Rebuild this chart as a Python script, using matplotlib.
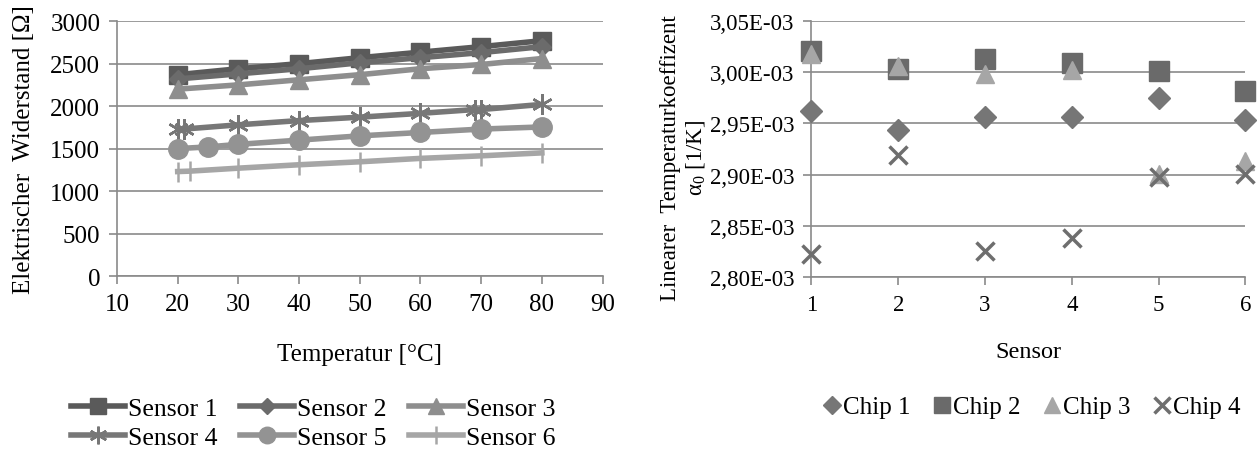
import matplotlib.pyplot as plt
from matplotlib.lines import Line2D
from matplotlib.ticker import FuncFormatter, MultipleLocator

plt.rcParams['font.family'] = ['Liberation Serif', 'DejaVu Serif']
plt.rcParams['mathtext.fontset'] = 'custom'
plt.rcParams['mathtext.rm'] = 'Liberation Serif'
plt.rcParams['mathtext.it'] = 'Liberation Serif'

# left chart: resistance vs temperature
sensor_names = ['Sensor 1', 'Sensor 2', 'Sensor 3', 'Sensor 4', 'Sensor 5', 'Sensor 6']
s1_x = [20, 30, 40, 50, 60, 70, 80]
s1_y = [2370, 2440, 2500, 2570, 2635, 2700, 2770]
s2_x = [20, 30, 40, 50, 60, 70, 80]
s2_y = [2320, 2380, 2440, 2510, 2570, 2630, 2700]
s3_x = [20, 30, 40, 50, 60, 70, 80]
s3_y = [2200, 2250, 2310, 2370, 2440, 2490, 2560]
s4_x = [20, 21, 30, 40, 50, 60, 69, 70, 80]
s4_y = [1730, 1730, 1780, 1830, 1870, 1915, 1960, 1960, 2020]
s5_x = [20, 25, 30, 40, 50, 60, 70, 80]
s5_y = [1500, 1520, 1550, 1600, 1650, 1690, 1730, 1755]
s6_x = [20, 22, 30, 40, 50, 60, 70, 80]
s6_y = [1230, 1235, 1270, 1310, 1345, 1385, 1415, 1450]

# right chart: temperature coefficient per sensor
sensors = [1, 2, 3, 4, 5, 6]
chip_names = ['Chip 1', 'Chip 2', 'Chip 3', 'Chip 4']
chip1 = [2.962e-3, 2.944e-3, 2.956e-3, 2.956e-3, 2.975e-3, 2.953e-3]
chip2 = [3.021e-3, 3.003e-3, 3.013e-3, 3.009e-3, 3.001e-3, 2.982e-3]
chip3 = [3.018e-3, 3.006e-3, 2.998e-3, 3.002e-3, 2.901e-3, 2.913e-3]
chip4 = [2.822e-3, 2.919e-3, 2.825e-3, 2.838e-3, 2.898e-3, 2.901e-3]

grid_c = '#8a8a8a'
fs_left = 18      # left chart was pasted a bit larger
fs_right = 16.5
fs_leg_left = 18.5
fs_leg_right = 18

fig = plt.figure(figsize=(12.58, 4.52), dpi=100)
ax1 = fig.add_axes([0.093, 0.387, 0.386, 0.564])
ax2 = fig.add_axes([0.645, 0.385, 0.345, 0.566])

sensor_series = [
    (s1_x, s1_y, 's', '#5a5a5a', 13),
    (s2_x, s2_y, 'D', '#6b6b6b', 9),
    (s3_x, s3_y, '^', '#8e8e8e', 13),
    (s4_x, s4_y, (6, 2, 0), '#777777', 15),
    (s5_x, s5_y, 'o', '#939393', 14),
    (s6_x, s6_y, '|', '#a6a6a6', 15),
]
handles = []
for (x, y, m, c, ms), name in zip(sensor_series, sensor_names):
    mew = 1.8 if m in ('|', (6, 2, 0)) else 1
    ax1.plot(x, y, color=c, lw=4, marker=m, ms=ms, mec=c, mfc=c, mew=mew,
             zorder=3)
    handles.append(Line2D([], [], color=c, lw=4, marker=m, ms=ms * 0.85,
                          mec=c, mfc=c, mew=mew, label=name))
# legend is filled row by row in the reference
order = [0, 3, 1, 4, 2, 5]
handles = [handles[i] for i in order]

ax1.set_xlim(10, 90)
ax1.set_ylim(0, 3000)
ax1.xaxis.set_major_locator(MultipleLocator(10))
ax1.yaxis.set_major_locator(MultipleLocator(500))
ax1.set_xlabel('Temperatur [°C]', fontsize=fs_left, labelpad=20)
ax1.set_ylabel('Elektrischer  Widerstand [Ω]', fontsize=fs_left)
ax1.yaxis.set_label_coords(-0.168, 0.5)

chip_series = [
    (chip1, 'D', '#767676', 11, 1),
    (chip2, 's', '#6a6a6a', 14, 1),
    (chip3, '^', '#a6a6a6', 13, 1),
    (chip4, 'x', '#6e6e6e', 13, 2.5),
]
chip_handles = []
for (vals, m, c, ms, mew), name in zip(chip_series, chip_names):
    ax2.plot(sensors, vals, ls='none', marker=m, ms=ms, color=c, mew=mew,
             clip_on=False, zorder=3)
    chip_handles.append(Line2D([], [], ls='none', marker=m, ms=ms * 0.85,
                               color=c, mew=mew, label=name))

ax2.set_xlim(1, 6)
ax2.set_ylim(2.80e-3, 3.05e-3)
ax2.xaxis.set_major_locator(MultipleLocator(1))
ax2.yaxis.set_major_locator(MultipleLocator(0.05e-3))
ax2.yaxis.set_major_formatter(FuncFormatter(
    lambda v, p: ('%.2E' % v).replace('.', ',')))
ax2.set_xlabel('Sensor', fontsize=17.5, labelpad=19)
ax2.set_ylabel('Linearer  Temperaturkoeffizent\n$\\mathrm{\\alpha_0}$ [1/K]',
               fontsize=16.5, linespacing=1.2)
ax2.yaxis.set_label_coords(-0.24, 0.47)

for ax, fs in ((ax1, fs_left), (ax2, fs_right)):
    ax.grid(axis='y', color=grid_c, lw=1.2)
    ax.set_axisbelow(True)
    for s in ('top', 'right'):
        ax.spines[s].set_visible(False)
    for s in ('left', 'bottom'):
        ax.spines[s].set_color(grid_c)
        ax.spines[s].set_linewidth(1.2)
    ax.tick_params(labelsize=fs, color=grid_c, length=6, width=1.2, pad=6)

fig.legend(handles=handles, loc='center', bbox_to_anchor=(0.249, 0.062),
           ncol=3, frameon=False, fontsize=fs_leg_left, handlelength=2.1,
           handletextpad=0.1, columnspacing=0.9, labelspacing=0.2)
fig.legend(handles=chip_handles, loc='center', bbox_to_anchor=(0.82, 0.097),
           ncol=4, frameon=False, fontsize=fs_leg_right, handlelength=0.7,
           handletextpad=0.1, columnspacing=0.9)

fig.savefig('out.png', dpi=100)
